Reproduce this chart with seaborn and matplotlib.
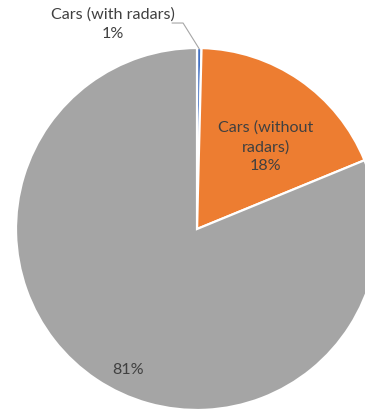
import numpy as np
import matplotlib
matplotlib.use("Agg")
import matplotlib.pyplot as plt
import seaborn as sns

categories = ["Cars (with radars)", "Cars (without radars)", "Other"]
values = [0.4, 18.4, 81.2]
pct_labels = ["1%", "18%", "81%"]
colors = ["#4472C4", "#ED7D31", "#A5A5A5"]

sns.set_style("white")
plt.rcParams["font.family"] = ["Lato", "DejaVu Sans"]

fig = plt.figure(figsize=(3.65, 4.12), dpi=100)
ax = fig.add_axes([0, 0, 1, 1])

wedges, _ = ax.pie(values, colors=colors, startangle=90, counterclock=False,
                   radius=1.0, wedgeprops=dict(edgecolor="white", linewidth=1.6))

ax.set_xlim(-197 / 181, (365 - 197) / 181)
ax.set_ylim(-(412 - 229) / 181, 229 / 181)
ax.set_aspect("auto")
ax.axis("off")

tc = "#404040"
fs = 11.6

# label for blue slice with leader line
w0 = wedges[0]
mid0 = np.deg2rad((w0.theta1 + w0.theta2) / 2)
ax.text(-0.464, 1.13, f"{categories[0]}\n{pct_labels[0]}", ha="center", va="center",
        fontsize=fs, color=tc, linespacing=1.45)
ax.plot([-0.138, -0.077, np.cos(mid0) * 0.995], [1.138, 1.138, np.sin(mid0) * 0.995],
        color="#A6A6A6", lw=0.8)

# orange label
ax.text(0.381, 0.453, "Cars (without\nradars)\n" + pct_labels[1], ha="center", va="center",
        fontsize=fs, color=tc, linespacing=1.45)

# gray label
ax.text(-0.381, -0.779, pct_labels[2], ha="center", va="center", fontsize=fs, color=tc)

fig.savefig("out.png", dpi=100)
